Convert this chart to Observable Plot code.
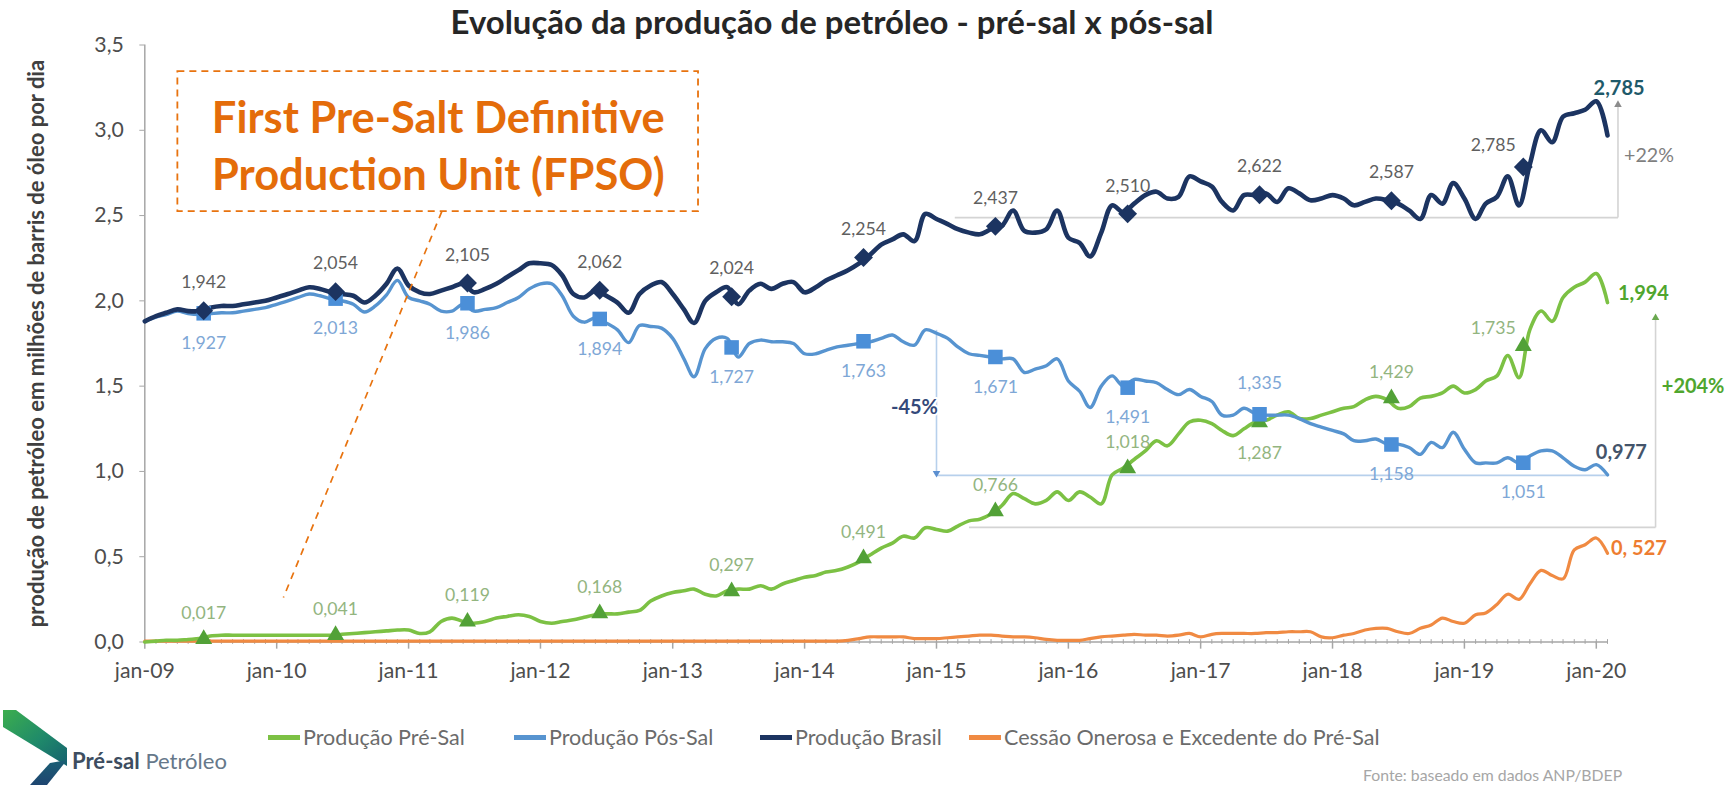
<!DOCTYPE html>
<html><head><meta charset="utf-8">
<script src="https://cdn.jsdelivr.net/npm/d3@7"></script>
<script src="https://cdn.jsdelivr.net/npm/@observablehq/plot@0.6"></script>
<style>
html,body{margin:0;padding:0;background:#fff;}
#wrap{position:relative;width:1729px;height:785px;overflow:hidden;font-family:Lato,"Open Sans",sans-serif;}
#chart{position:absolute;left:0;top:0;}
.abs{position:absolute;white-space:nowrap;line-height:1;}
</style></head><body><div id="wrap"><div id="chart"></div></div>
<script>
// ---------------- DATA (monthly, jan-09 .. feb-20) ----------------
const seriesNames = ["Produção Pré-Sal", "Produção Pós-Sal", "Produção Brasil", "Cessão Onerosa e Excedente do Pré-Sal"];

const brasil = [
  1.88,1.91,1.93,1.95,1.94,1.94,1.96,1.97,1.97,1.98,1.99,2.00,
  2.02,2.04,2.06,2.08,2.07,2.05,2.04,2.03,1.99,2.03,2.10,2.19,
  2.09,2.05,2.04,2.06,2.08,2.10,2.05,2.07,2.10,2.14,2.18,2.22,
  2.22,2.21,2.15,2.04,2.02,2.06,2.03,1.99,1.93,2.04,2.09,2.11,
  2.04,1.95,1.87,2.00,2.05,2.08,1.98,2.06,2.10,2.07,2.10,2.11,
  2.05,2.08,2.12,2.15,2.18,2.22,2.27,2.33,2.36,2.39,2.35,2.51,
  2.48,2.45,2.42,2.40,2.39,2.42,2.44,2.53,2.41,2.40,2.42,2.53,
  2.37,2.34,2.26,2.40,2.56,2.52,2.57,2.62,2.64,2.60,2.61,2.73,
  2.70,2.67,2.58,2.53,2.62,2.62,2.63,2.58,2.66,2.63,2.59,2.60,
  2.62,2.60,2.56,2.58,2.60,2.59,2.57,2.53,2.48,2.62,2.57,2.69,
  2.60,2.48,2.57,2.61,2.73,2.56,2.80,3.00,2.93,3.08,3.10,3.12,
  3.17,2.97
];
const posSal = [
  1.88,1.905,1.92,1.94,1.925,1.92,1.925,1.93,1.93,1.94,1.95,1.96,
  1.98,2.00,2.02,2.04,2.03,2.01,2.00,1.98,1.935,1.97,2.035,2.12,
  2.02,2.00,1.98,1.94,1.94,1.98,1.94,1.95,1.96,1.99,2.02,2.07,
  2.10,2.10,2.03,1.91,1.875,1.90,1.87,1.83,1.755,1.855,1.85,1.84,
  1.78,1.66,1.555,1.72,1.78,1.78,1.67,1.75,1.77,1.76,1.76,1.75,
  1.69,1.69,1.71,1.73,1.74,1.75,1.76,1.78,1.80,1.76,1.74,1.83,
  1.81,1.78,1.73,1.69,1.68,1.67,1.66,1.66,1.58,1.60,1.62,1.66,
  1.53,1.47,1.375,1.50,1.56,1.50,1.54,1.53,1.52,1.48,1.45,1.48,
  1.44,1.41,1.33,1.33,1.37,1.34,1.33,1.33,1.33,1.31,1.28,1.26,
  1.24,1.22,1.18,1.18,1.19,1.16,1.16,1.14,1.10,1.17,1.14,1.23,
  1.13,1.05,1.05,1.05,1.08,1.05,1.09,1.12,1.12,1.08,1.03,1.01,
  1.04,0.98
];
const preSal = [
  0.00,0.005,0.01,0.01,0.015,0.02,0.035,0.04,0.04,0.04,0.04,0.04,
  0.04,0.04,0.04,0.04,0.04,0.04,0.045,0.05,0.055,0.06,0.065,0.07,
  0.07,0.05,0.06,0.12,0.14,0.12,0.11,0.12,0.14,0.15,0.16,0.15,
  0.12,0.11,0.12,0.13,0.145,0.16,0.165,0.165,0.175,0.185,0.24,0.27,
  0.29,0.30,0.31,0.28,0.27,0.30,0.31,0.31,0.33,0.31,0.34,0.36,
  0.38,0.39,0.41,0.42,0.44,0.47,0.51,0.55,0.58,0.62,0.61,0.67,
  0.66,0.65,0.68,0.71,0.72,0.75,0.80,0.87,0.84,0.81,0.83,0.88,
  0.83,0.88,0.85,0.81,0.98,1.02,1.07,1.12,1.18,1.15,1.22,1.29,
  1.30,1.28,1.24,1.21,1.25,1.29,1.30,1.33,1.35,1.31,1.31,1.33,
  1.35,1.37,1.38,1.42,1.44,1.42,1.37,1.38,1.43,1.44,1.46,1.50,
  1.46,1.48,1.53,1.56,1.68,1.55,1.83,1.94,1.88,2.02,2.08,2.11,
  2.16,1.99
];
const cessao = [
  0.005,0.005,0.005,0.005,0.005,0.005,0.005,0.005,0.005,0.005,0.005,0.005,
  0.005,0.005,0.005,0.005,0.005,0.005,0.005,0.005,0.005,0.005,0.005,0.005,
  0.005,0.005,0.005,0.005,0.005,0.005,0.005,0.005,0.005,0.005,0.005,0.005,
  0.005,0.005,0.005,0.005,0.005,0.005,0.005,0.005,0.005,0.005,0.005,0.005,
  0.005,0.005,0.005,0.005,0.005,0.005,0.005,0.005,0.005,0.005,0.005,0.005,
  0.005,0.005,0.005,0.005,0.01,0.02,0.03,0.03,0.03,0.03,0.02,0.02,
  0.02,0.025,0.03,0.035,0.04,0.04,0.035,0.03,0.03,0.025,0.015,0.01,
  0.01,0.01,0.02,0.03,0.035,0.04,0.045,0.04,0.04,0.035,0.04,0.05,
  0.03,0.045,0.05,0.05,0.05,0.05,0.055,0.055,0.06,0.06,0.06,0.03,
  0.025,0.04,0.05,0.07,0.08,0.08,0.06,0.05,0.08,0.10,0.14,0.12,
  0.11,0.16,0.17,0.22,0.28,0.25,0.34,0.42,0.39,0.37,0.54,0.57,
  0.61,0.52
];

// annual values (markers, placed mid-year)
const markerYears = [2009,2010,2011,2012,2013,2014,2015,2016,2017,2018,2019];
const brasilAnnual = [1.942,2.054,2.105,2.062,2.024,2.254,2.437,2.510,2.622,2.587,2.785];
const posAnnual    = [1.927,2.013,1.986,1.894,1.727,1.763,1.671,1.491,1.335,1.158,1.051];
const preAnnual    = [0.017,0.041,0.119,0.168,0.297,0.491,0.766,1.018,1.287,1.429,1.735];

const yTicks = [0,0.5,1,1.5,2,2.5,3,3.5];
const xTickYears = [2009,2010,2011,2012,2013,2014,2015,2016,2017,2018,2019,2020];

const titleText = "Evolução da produção de petróleo - pré-sal x pós-sal";
const yLabelText = "produção de petróleo em milhões de barris de óleo por dia";
const noteText = "First Pre-Salt Definitive\nProduction Unit (FPSO)";
const footerText = "Fonte: baseado em dados ANP/BDEP";

// ---------------- helpers ----------------
const FONT = "Lato";
const ctx = document.createElement("canvas").getContext("2d");
function fit(text, weight, width) {
  ctx.font = `${weight} 100px ${FONT}`;
  return +(100 * width / ctx.measureText(text).width).toFixed(2);
}
const start = new Date(Date.UTC(2009,0,1));
const end = new Date(Date.UTC(2020,1,1));
const months = d3.utcMonth.range(start, new Date(Date.UTC(2020,2,1)));
function md(m) { // fractional month index -> date
  const i = Math.floor(m), f = m - i;
  const a = d3.utcMonth.offset(start, i), b = d3.utcMonth.offset(start, i + 1);
  return new Date(+a + f * (b - a));
}
const fmt3 = v => v.toFixed(3).replace(".", ",");

const colors = {
  "Produção Pré-Sal": "#7cc144",
  "Produção Pós-Sal": "#5794d0",
  "Produção Brasil": "#1c3461",
  "Cessão Onerosa e Excedente do Pré-Sal": "#f08a42"
};
const valuesBy = {
  "Produção Pré-Sal": preSal, "Produção Pós-Sal": posSal,
  "Produção Brasil": brasil, "Cessão Onerosa e Excedente do Pré-Sal": cessao
};
const rowsOf = name => valuesBy[name].map((v, i) => ({date: months[i], value: v, name}));

// markers & labels
const posLabelAbove = [2017];
const preLabelBelow = [2017];
const bm = [], pm = [], qm = [];
markerYears.forEach((yr, i) => {
  const date = md(5.4 + 12 * i);
  const last = yr === 2019;
  bm.push({date, value: brasilAnnual[i], dy: last ? -22 : -28, dx: last ? -30 : 0});
  pm.push({date, value: posAnnual[i], dy: posLabelAbove.includes(yr) ? -31 : 30, dx: 0});
  qm.push({date, value: preAnnual[i], dy: preLabelBelow.includes(yr) ? 31 : (last ? -18 : -26), dx: last ? -30 : 0});
});

// annotation geometry (in data units: month index, value)
const grayRule = "#d4d4d4", blueRule = "#b7d0ec";
const segments = [
  {m1: 73.7, v1: 2.488, m2: 134, v2: 2.488, c: grayRule},
  {m1: 134, v1: 2.488, m2: 134, v2: 3.14, c: grayRule},
  {m1: 72, v1: 1.83, m2: 72, v2: 0.995, c: blueRule},
  {m1: 72, v1: 0.977, m2: 133, v2: 0.977, c: blueRule},
  {m1: 75, v1: 0.672, m2: 137.4, v2: 0.672, c: grayRule},
  {m1: 137.4, v1: 0.672, m2: 137.4, v2: 1.89, c: grayRule}
];
const arrowHeads = [
  {m: 134, v: 3.15, rot: 0, c: "#8c8c8c"},
  {m: 72, v: 0.99, rot: 180, c: "#5b8fd0"},
  {m: 137.4, v: 1.90, rot: 0, c: "#6aa84f"}
];
const notes = [
  {m: 134.1, v: 3.245, t: "2,785", c: "#1f5a6a", w: "bold"},
  {m: 136.8, v: 2.85,  t: "+22%",  c: "#7f7f7f", w: "normal"},
  {m: 136.3, v: 2.043, t: "1,994", c: "#4fa62e", w: "bold"},
  {m: 140.8, v: 1.498, t: "+204%", c: "#4fa62e", w: "bold"},
  {m: 134.3, v: 1.11,  t: "0,977", c: "#44546a", w: "bold"},
  {m: 135.9, v: 0.548, t: "0, 527", c: "#ee7d31", w: "bold"},
  {m: 70,    v: 1.375, t: "-45%",  c: "#34497a", w: "bold"}
];
const noteBox = {m1: 3.05, m2: 50.4, v1: 2.523, v2: 3.344};
const noteLink = {m1: 27.06, v1: 2.523, m2: 12.6, v2: 0.261};
const noteCenter = {m: 26.75, v: 2.925};

// font sizes fitted to the reference text widths
const fsTick = fit("jan-09", 400, 60);
const fsVal = fit("1,942", 400, 45);
const fsEnd = fit("1,994", 700, 51);
const fsPct = fit("+22%", 400, 50);
const fsNote = fit("First Pre-Salt Definitive", 700, 453);
const fsTitle = fit(titleText, 700, 763);
const fsYLab = fit(yLabelText, 700, 568);
const fsLeg = fit("Produção Pré-Sal", 400, 162);
const fsFoot = fit(footerText, 400, 260);

const axisGray = "#a6a6a6";
const one = [{}];

function labelMarks(arr, fill) {
  return d3.groups(arr, d => d.dx + "," + d.dy).map(([, g]) =>
    Plot.text(g, {x: "date", y: "value", text: d => fmt3(d.value), dx: g[0].dx, dy: g[0].dy, fill, fontSize: fsVal}));
}
const noteOpts = {x: d => md(d.m), y: "v", text: "t", fill: "c", stroke: "white", strokeWidth: 4, paintOrder: "stroke"};

const chart = Plot.plot({
  width: 1729, height: 785,
  marginLeft: 144.3, marginRight: 122, marginTop: 44.5, marginBottom: 143.5,
  x: {type: "utc", domain: [start, end], axis: null},
  y: {domain: [0, 3.5], axis: null},
  style: {fontFamily: "Lato, sans-serif", background: "transparent", overflow: "visible"},
  marks: [
    // annotation rules
    Plot.link(segments, {x1: d => md(d.m1), y1: "v1", x2: d => md(d.m2), y2: "v2", stroke: "c", strokeWidth: 1.6}),
    Plot.dot(arrowHeads, {x: d => md(d.m), y: "v", symbol: "triangle", r: 2.8, fill: "c", rotate: "rot"}),
    // axes
    Plot.ruleY([0], {stroke: axisGray, strokeWidth: 1.5}),
    Plot.ruleX([start], {y1: 0, y2: 3.5, stroke: axisGray, strokeWidth: 1.5}),
    Plot.ruleX(months, {x: d => d, y1: -0.014, y2: 0.014, stroke: axisGray, strokeWidth: 1}),
    Plot.ruleX(xTickYears.map(y => new Date(Date.UTC(y,0,1))), {x: d => d, y1: 0, y2: -0.042, stroke: axisGray, strokeWidth: 1.5}),
    Plot.axisY({ticks: yTicks, tickSize: 5, tickPadding: 16, tickFormat: d => d.toFixed(1).replace(".", ","),
      stroke: axisGray, fill: "#4d4d4d", fontSize: fsTick, label: null}),
    Plot.axisX({ticks: xTickYears.map(y => new Date(Date.UTC(y,0,1))), tickSize: 0, tickPadding: 21,
      tickFormat: d => "jan-" + String(d.getUTCFullYear()).slice(2), fill: "#4d4d4d", fontSize: fsTick, label: null}),
    Plot.text([yLabelText], {frameAnchor: "left", textAnchor: "middle", dx: -108, rotate: -90, text: d => d,
      fontSize: fsYLab, fontWeight: "bold", fill: "#404040"}),
    // series lines
    Plot.line(rowsOf(seriesNames[3]), {x: "date", y: "value", stroke: colors[seriesNames[3]], strokeWidth: 3.2, curve: "catmull-rom"}),
    Plot.line(rowsOf(seriesNames[0]), {x: "date", y: "value", stroke: colors[seriesNames[0]], strokeWidth: 3.6, curve: "catmull-rom"}),
    Plot.line(rowsOf(seriesNames[1]), {x: "date", y: "value", stroke: colors[seriesNames[1]], strokeWidth: 3.4, curve: "catmull-rom"}),
    Plot.line(rowsOf(seriesNames[2]), {x: "date", y: "value", stroke: colors[seriesNames[2]], strokeWidth: 4.6, curve: "catmull-rom"}),
    // markers
    Plot.dot(qm, {x: "date", y: "value", symbol: "triangle", r: 6.3, fill: "#52a137"}),
    Plot.dot(pm, {x: "date", y: "value", symbol: "square", r: 8.2, fill: "#4b8fd8"}),
    Plot.dot(bm, {x: "date", y: "value", symbol: "diamond2", r: 8.5, fill: "#1c3461"}),
    // marker labels
    ...labelMarks(bm, "#5f5f5f"),
    ...labelMarks(pm, "#7ea7d6"),
    ...labelMarks(qm, "#93b57f"),
    // end annotations
    Plot.text(notes.filter(d => d.w === "bold"), {...noteOpts, fontWeight: "bold", fontSize: fsEnd}),
    Plot.text(notes.filter(d => d.w !== "bold"), {...noteOpts, fontSize: fsPct}),
    // FPSO note
    Plot.rect(one, {x1: () => md(noteBox.m1), x2: () => md(noteBox.m2), y1: () => noteBox.v1, y2: () => noteBox.v2,
      fill: "none", stroke: "#e8730f", strokeWidth: 1.8, strokeDasharray: "7,5"}),
    Plot.link(one, {x1: () => md(noteLink.m1), y1: () => noteLink.v1, x2: () => md(noteLink.m2), y2: () => noteLink.v2,
      stroke: "#e8730f", strokeWidth: 1.7, strokeDasharray: "7,6"}),
    Plot.text(one, {x: () => md(noteCenter.m), y: () => noteCenter.v, text: () => noteText, fill: "#e46c0a",
      fontWeight: "bold", fontSize: fsNote, lineHeight: 57 / fsNote})
  ]
});
document.getElementById("chart").appendChild(chart);

// ---------------- HTML: title, legend, logo, footer ----------------
const wrap = document.getElementById("wrap");
function addText(txt, cx, cy, size, weight, color, anchor) {
  const d = document.createElement("div");
  d.className = "abs";
  d.textContent = txt;
  d.style.fontSize = size + "px";
  d.style.fontWeight = weight;
  d.style.color = color;
  d.style.top = cy + "px";
  d.style.left = cx + "px";
  d.style.transform = anchor === "start" ? "translate(0,-50%)" : "translate(-50%,-50%)";
  wrap.appendChild(d);
  return d;
}
addText(titleText, 832, 21, fsTitle, 700, "#262626");

const legendX = [268, 514, 760, 969];
seriesNames.forEach((n, i) => {
  const sw = document.createElement("div");
  sw.className = "abs";
  sw.style.left = legendX[i] + "px"; sw.style.top = "735px";
  sw.style.width = "32px"; sw.style.height = "5px"; sw.style.background = colors[n];
  wrap.appendChild(sw);
  addText(n, legendX[i] + 35, 738, fsLeg, 400, "#6b6b6b", "start");
});
addText(footerText, 1363, 775, fsFoot, 400, "#a6a6a6", "start");

// logo
const ns = "http://www.w3.org/2000/svg";
const logo = document.createElementNS(ns, "svg");
logo.setAttribute("width", "80"); logo.setAttribute("height", "85");
logo.style.position = "absolute"; logo.style.left = "0px"; logo.style.top = "700px";
logo.innerHTML = `<defs><linearGradient id="g1" x1="0" y1="0" x2="1" y2="1">
<stop offset="0" stop-color="#3cae4e"/><stop offset="0.55" stop-color="#1f8a6a"/><stop offset="1" stop-color="#16606f"/></linearGradient>
<linearGradient id="g2" x1="0" y1="0" x2="0" y2="1"><stop offset="0" stop-color="#1b5f75"/><stop offset="1" stop-color="#1e4570"/></linearGradient></defs>
<polygon points="3,10 16,10 67,48 67,66 3,27" fill="url(#g1)"/>
<polygon points="50,63 67,60 47,85 30,85" fill="url(#g2)"/>`;
wrap.appendChild(logo);
ctx.font = `700 100px ${FONT}`; const wb = ctx.measureText("Pré-sal").width;
ctx.font = `400 100px ${FONT}`; const wn = ctx.measureText(" Petróleo").width;
const fsLogo = 100 * 155 / (wb + wn);
const lt = document.createElement("div");
lt.className = "abs";
lt.style.left = "72px"; lt.style.top = "761px"; lt.style.transform = "translate(0,-50%)";
lt.style.fontSize = fsLogo + "px";
lt.innerHTML = `<span style="font-weight:700;color:#3d4d60">Pré-sal</span><span style="color:#66788a"> Petróleo</span>`;
wrap.appendChild(lt);
</script></body></html>
